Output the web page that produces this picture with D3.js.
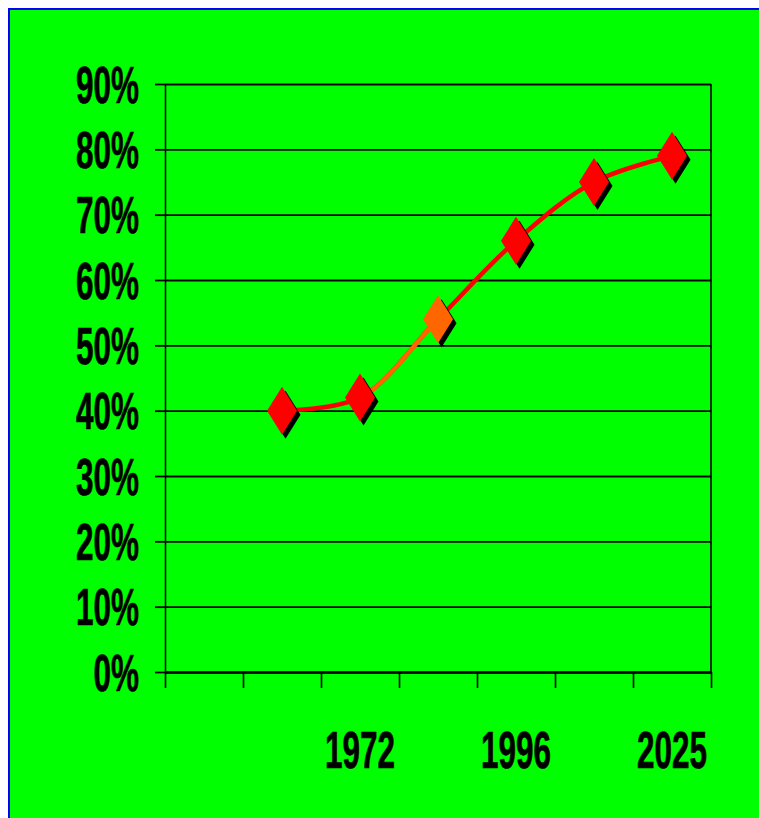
<!DOCTYPE html>
<html>
<head>
<meta charset="utf-8">
<script src="https://cdn.jsdelivr.net/npm/d3@7"></script>
<style>
  html, body { margin: 0; padding: 0; background: #ffffff; }
  svg { display: block; }
</style>
</head>
<body>
<svg id="chart" width="759" height="818"></svg>
<script>
// ---- data ----
const categories = [0, 1, 2, 3, 4, 5, 6];
const tickLabels = ["", "", "1972", "", "1996", "", "2025"];
const values = [null, 0.40, 0.42, 0.54, 0.66, 0.75, 0.79];
const yTicks = [0, 0.1, 0.2, 0.3, 0.4, 0.5, 0.6, 0.7, 0.8, 0.9];
const highlightIndex = 3;

// ---- layout ----
const W = 759, H = 818;
const plot = { left: 165, right: 711, top: 84, bottom: 672 };
const svg = d3.select("#chart");

svg.append("rect")
  .attr("x", 9).attr("y", 9)
  .attr("width", W + 10).attr("height", H + 10)
  .attr("fill", "#00ff00")
  .attr("stroke", "#0000ff").attr("stroke-width", 2);

const x = d3.scaleBand().domain(categories).range([plot.left, plot.right]).paddingInner(0).paddingOuter(0);
const xEdges = d3.scaleLinear().domain([0, categories.length]).range([plot.left, plot.right]);
const y = d3.scaleLinear().domain([0, 0.9]).range([plot.bottom, plot.top]);

const fontFamily = "'Liberation Sans Narrow', 'Arial Narrow', 'Liberation Sans', Arial, sans-serif";
const fontSize = 52;

// measure digit width to get a condensed look
const probe = svg.append("text").attr("font-family", fontFamily).attr("font-weight", "bold")
  .attr("font-size", fontSize).text("0000");
const digitW = probe.node().getComputedTextLength() / 4;
probe.remove();
const sx = 17.5 / digitW;

// grid lines
const grid = svg.append("g").attr("transform", `translate(${plot.left},0)`)
  .call(d3.axisLeft(y).tickValues(yTicks).tickSize(-(plot.right - plot.left)).tickFormat(""));
grid.select(".domain").remove();
grid.selectAll(".tick line").attr("stroke", "#000").attr("stroke-width", 1.8);

// plot border right side
svg.append("line")
  .attr("x1", plot.right).attr("x2", plot.right)
  .attr("y1", plot.top).attr("y2", plot.bottom)
  .attr("stroke", "#000").attr("stroke-width", 1.6);

// y axis
const yAxis = svg.append("g").attr("transform", `translate(${plot.left},0)`)
  .call(d3.axisLeft(y).tickValues(yTicks).tickSize(10).tickSizeOuter(0).tickFormat(d3.format(".0%")));
yAxis.select(".domain").attr("stroke", "#000").attr("stroke-width", 1.5);
yAxis.selectAll(".tick line").attr("stroke", "#000").attr("stroke-width", 1.8);
yAxis.selectAll(".tick text")
  .attr("x", 0).attr("dy", null)
  .attr("transform", `translate(-26,18) scale(${sx},1)`)
  .attr("text-anchor", "end")
  .attr("fill", "#000").attr("stroke", "#000").attr("stroke-width", 0.7)
  .attr("font-family", fontFamily).attr("font-weight", "bold").attr("font-size", fontSize);

// x axis ticks at category boundaries
const xAxis = svg.append("g").attr("transform", `translate(0,${plot.bottom})`)
  .call(d3.axisBottom(xEdges).tickValues(d3.range(categories.length + 1)).tickSize(16).tickSizeOuter(0).tickFormat(""));
xAxis.select(".domain").attr("stroke", "#000").attr("stroke-width", 2.5);
xAxis.selectAll(".tick line").attr("stroke", "#000").attr("stroke-width", 1.6);

// x labels at category centres
const xLab = svg.append("g").attr("transform", `translate(0,${plot.bottom})`)
  .call(d3.axisBottom(x).tickSize(0).tickFormat((d, i) => tickLabels[i]));
xLab.select(".domain").remove();
xLab.selectAll(".tick text")
  .attr("y", 0).attr("dy", null)
  .attr("transform", `translate(0,96) scale(${sx},1)`)
  .attr("text-anchor", "middle")
  .attr("fill", "#000").attr("stroke", "#000").attr("stroke-width", 0.7)
  .attr("font-family", fontFamily).attr("font-weight", "bold").attr("font-size", fontSize);

// line
const pts = categories.map((c, i) => ({ c, i, v: values[i] })).filter(d => d.v != null);
const line = d3.line()
  .x(d => x(d.c) + x.bandwidth() / 2)
  .y(d => y(d.v))
  .curve(d3.curveCatmullRom.alpha(0.5));

svg.append("path").datum(pts)
  .attr("d", line)
  .attr("fill", "none").attr("stroke", "#ff0000").attr("stroke-width", 4.5)
  .attr("stroke-linejoin", "round");

// orange segment leading into highlighted point
const prevCat = categories[highlightIndex - 1], hiCat = categories[highlightIndex];
svg.append("clipPath").attr("id", "segclip")
  .append("rect")
  .attr("x", x(prevCat) + x.bandwidth() / 2).attr("y", 0)
  .attr("width", x(hiCat) - x(prevCat)).attr("height", H);
svg.append("path").datum(pts)
  .attr("d", line)
  .attr("clip-path", "url(#segclip)")
  .attr("fill", "none").attr("stroke", "#ff6600").attr("stroke-width", 4.5);

// markers
const diamond = "M0,-24 L15,0 L0,24 L-15,0 Z";
const mk = svg.append("g").selectAll("g").data(pts).join("g")
  .attr("transform", d => `translate(${x(d.c) + x.bandwidth() / 2},${y(d.v)})`);
mk.append("path").attr("d", diamond).attr("transform", "translate(3.5,4)").attr("fill", "#000");
mk.append("path").attr("d", diamond)
  .attr("fill", d => d.i === highlightIndex ? "#ff6600" : "#ff0000");
</script>
</body>
</html>
